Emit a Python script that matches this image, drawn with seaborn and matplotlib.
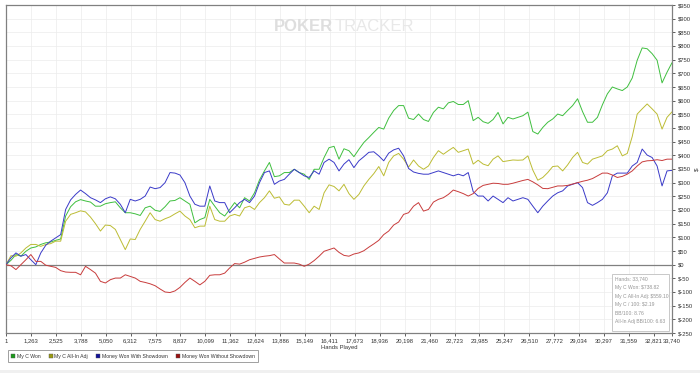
import numpy as np
import pandas as pd
import matplotlib
matplotlib.use("Agg")
import matplotlib.pyplot as plt
from matplotlib.lines import Line2D
from matplotlib.patches import Rectangle
from matplotlib.ticker import FuncFormatter
import seaborn as sns

# datos (cada ~253 manos)
won_values = [
    0, 16, 37, 31, 49, 61, 65, 74, 80, 83, 89, 94, 178, 212, 230, 238, 233, 229, 214, 214, 223, 227,
    230, 208, 190, 190, 186, 180, 208, 214, 199, 195, 212, 233, 235, 245, 233, 221, 153, 165, 172, 239, 214,
    190, 178, 202, 227, 208, 245, 233, 263, 310, 343, 374, 322, 325, 337, 337, 349, 337, 331, 312, 349, 349,
    392, 428, 433, 386, 424, 417, 395, 422, 447, 465, 484, 502, 496, 536, 564, 582, 582, 536, 531, 551, 531, 524, 557,
    576, 570, 592, 597, 586, 586, 600, 527, 539, 523, 517, 531, 557, 515, 539, 533, 539, 545, 558, 487, 478, 502,
    521, 533, 551, 545, 564, 582, 607, 560, 521, 521, 539, 585, 625, 650, 643, 637, 650, 683, 748, 793, 790, 772,
    748, 665, 704, 738.82,
]
allin_values = [
    0, 33, 31, 43, 61, 74, 74, 67, 74, 77, 86, 86, 159, 184, 190, 197, 193, 174, 150, 123, 145, 143,
    129, 92, 55, 94, 92, 129, 159, 190, 165, 159, 168, 175, 186, 196, 178, 165, 135, 141, 141, 214, 165,
    159, 159, 178, 184, 178, 208, 214, 202, 227, 245, 270, 243, 248, 221, 218, 236, 236, 214, 190, 214, 202,
    263, 292, 286, 270, 294, 260, 239, 257, 288, 312, 333, 359, 325, 374, 398, 407, 386, 357, 383, 361, 349, 361, 392,
    417, 404, 417, 429, 411, 417, 423, 368, 382, 368, 362, 386, 398, 377, 380, 383, 382, 383, 398, 346, 309, 319,
    337, 359, 361, 343, 365, 392, 411, 374, 368, 386, 392, 398, 417, 423, 435, 398, 407, 469, 551, 570, 588, 570,
    551, 496, 539, 559.10,
]
showdown_values = [
    0, 25, 43, 31, 37, 18, 0, 43, 71, 86, 98, 110, 202, 237, 257, 273, 260, 245, 237, 227, 241, 248,
    241, 221, 190, 239, 233, 239, 251, 284, 278, 282, 300, 337, 335, 328, 300, 251, 221, 214, 214, 288, 233,
    227, 227, 190, 208, 227, 239, 227, 251, 300, 337, 343, 294, 306, 312, 331, 349, 337, 325, 319, 343, 331,
    374, 386, 374, 343, 368, 384, 355, 380, 395, 411, 413, 398, 380, 408, 420, 426, 398, 352, 339, 334, 331, 331, 337,
    343, 337, 331, 325, 331, 325, 337, 267, 251, 251, 233, 251, 239, 227, 245, 233, 239, 245, 239, 214, 190, 214,
    233, 251, 263, 270, 288, 294, 300, 282, 227, 217, 227, 239, 263, 325, 335, 335, 335, 361, 374, 423, 401, 392,
    361, 288, 343, 345,
]
no_showdown_values = [
    0, -4, -18, 0, 18, 37, 12, 12, -2, -6, -10, -22, -27, -28, -28, -37, -6, -18, -31, -61, -67, -55,
    -49, -49, -37, -43, -49, -61, -65, -70, -77, -89, -100, -102, -96, -83, -65, -49, -61, -74, -61, -39, -37,
    -37, -31, -12, 4, 2, 9, 18, 23, 28, 31, 33, 37, 21, 6, 6, 6, 2, -6, 2, 15,
    31, 49, 55, 61, 45, 34, 31, 39, 43, 51, 64, 76, 89, 110, 123, 145, 156, 184, 190, 214, 227, 196, 202, 229,
    239, 245, 257, 273, 267, 260, 251, 260, 279, 290, 294, 298, 297, 294, 294, 298, 303, 308, 312, 303, 292, 279,
    278, 283, 288, 288, 290, 295, 300, 305, 309, 315, 325, 335, 335, 328, 319, 323, 331, 343, 361, 376, 380, 381,
    384, 381, 386, 386,
]

hands = np.linspace(1, 33740, len(won_values))

series_names = ["My C Won", "My C All-In Adj", "Money Won With Showdown", "Money Won Without Showdown"]
line_colors = ["#3fbf3f", "#bcbc34", "#3a3ac8", "#c83c3c"]
legend_colors = ["#1a9a1a", "#9a9a10", "#10109a", "#9a1010"]

x_ticks = [1, 1263, 2525, 3788, 5050, 6312, 7575, 8837, 10099, 11362, 12624, 13886, 15149, 16411,
           17673, 18936, 20198, 21460, 22723, 23985, 25247, 26510, 27772, 29034, 30297, 31559, 32821, 33740]
y_ticks = list(range(-250, 951, 50))

stats_lines = ["Hands: 33,740", "My C Won: $738.82", "My C All-In Adj: $559.10",
               "My C / 100: $2.19", "BB/100: 8.76", "All-In Adj BB/100: 6.63"]

# dataframe largo para seaborn
df = pd.concat([
    pd.DataFrame({"hands": hands, "value": vals, "series": name})
    for name, vals in zip(series_names, [won_values, allin_values, showdown_values, no_showdown_values])
])

sns.set_style("white")
plt.rcParams["font.family"] = ["Liberation Sans", "DejaVu Sans"]

fig = plt.figure(figsize=(7, 3.73), dpi=100)
ax = fig.add_axes([6 / 700, 40 / 373, 666 / 700, 328 / 373])

sns.lineplot(data=df, x="hands", y="value", hue="series", palette=dict(zip(series_names, line_colors)),
             legend=False, linewidth=0.7, ax=ax, zorder=3)

ax.set_xlim(1, 33740)
ax.set_ylim(-250, 950)
ax.set_xticks(x_ticks)
ax.set_yticks(y_ticks)
ax.xaxis.set_major_formatter(FuncFormatter(lambda v, p: f"{int(round(v)):,}"))
ax.yaxis.set_major_formatter(FuncFormatter(lambda v, p: f"${int(v)}"))
ax.yaxis.tick_right()
ax.yaxis.set_label_position("right")
ax.tick_params(axis="both", labelsize=4.2, length=2.5, width=0.6, color="#444444",
               labelcolor="#333333", pad=1.5)
ax.tick_params(axis="y", right=True, left=False)
ax.tick_params(axis="x", bottom=True)
ax.grid(True, color="#ececec", linewidth=0.5, zorder=0)
ax.axhline(0, color="#808080", linewidth=0.9, zorder=2)
for s in ax.spines.values():
    s.set_color("#808080")
    s.set_linewidth(0.9)

ax.set_xlabel("Hands Played", fontsize=4.2, color="#333333", labelpad=1)
ax.set_ylabel("$", fontsize=4.6, color="#333333", labelpad=1)

# marca de agua
ax.text(0.491, 0.933, "POKER", transform=ax.transAxes, ha="right", va="center",
        fontsize=12, fontweight="bold", color="#dedede", zorder=1)
ax.text(0.493, 0.933, "TRACKER", transform=ax.transAxes, ha="left", va="center",
        fontsize=12, color="#e8e8e8", zorder=1)

# caja de estadisticas
ax.add_patch(Rectangle((0.910, 0.006), 0.0855, 0.174, transform=ax.transAxes,
                       facecolor="white", edgecolor="#c8c8c8", linewidth=0.7, zorder=4))
for i, line in enumerate(stats_lines):
    ax.text(0.914, 0.165 - i * 0.0262, line, transform=ax.transAxes, ha="left", va="center",
            fontsize=3.6, color="#959595", zorder=5)

# leyenda
handles = [Line2D([], [], marker="s", linestyle="", markersize=2.8, markerfacecolor=c,
                  markeredgecolor="#555555", markeredgewidth=0.3) for c in legend_colors]
leg = fig.legend(handles, series_names, loc="lower left", bbox_to_anchor=(5 / 700, 8 / 373),
                 ncol=4, fontsize=3.7, frameon=True, fancybox=False, handletextpad=0.3,
                 columnspacing=1.6, handlelength=0.8, borderpad=0.7, labelcolor="#333333")
leg.get_frame().set_edgecolor("#888888")
leg.get_frame().set_linewidth(0.7)

fig.patches.append(Rectangle((0, 0), 1, 3 / 373, transform=fig.transFigure,
                             facecolor="#f0f0f0", edgecolor="none"))

fig.savefig("out.png", dpi=100)
